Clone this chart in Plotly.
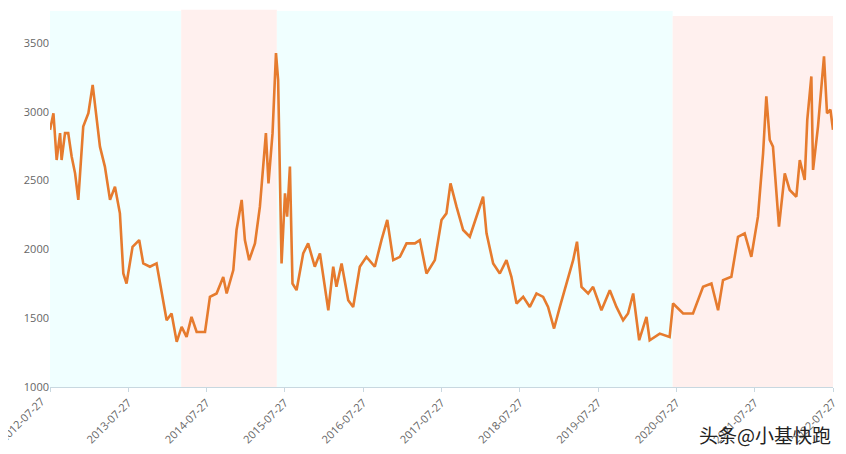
import plotly.graph_objects as go

dates = [
    "2012-07-27", "2012-08-12", "2012-08-27", "2012-09-12", "2012-09-19", "2012-10-05",
    "2012-10-20", "2012-11-05", "2012-11-21", "2012-12-06", "2012-12-29", "2013-01-22",
    "2013-02-11", "2013-03-02", "2013-03-17", "2013-04-09", "2013-05-03", "2013-05-26",
    "2013-06-18", "2013-07-04", "2013-07-19", "2013-08-16", "2013-09-16", "2013-10-05",
    "2013-11-05", "2013-12-06", "2014-01-06", "2014-01-22", "2014-02-14", "2014-03-10",
    "2014-04-02", "2014-04-25", "2014-05-18", "2014-06-11", "2014-07-20", "2014-08-12",
    "2014-09-12", "2014-10-13", "2014-10-29", "2014-11-29", "2014-12-14", "2015-01-07",
    "2015-01-22", "2015-02-11", "2015-03-10", "2015-04-02", "2015-04-30", "2015-05-12",
    "2015-05-31", "2015-06-16", "2015-06-26", "2015-07-12", "2015-07-28", "2015-08-07",
    "2015-08-20", "2015-09-01", "2015-09-20", "2015-10-21", "2015-11-13", "2015-12-14",
    "2016-01-07", "2016-02-15", "2016-03-09", "2016-03-24", "2016-04-17", "2016-05-18",
    "2016-06-10", "2016-07-11", "2016-08-11", "2016-09-19", "2016-10-20", "2016-11-16",
    "2016-12-14", "2017-01-14", "2017-02-14", "2017-03-25", "2017-04-17", "2017-05-18",
    "2017-06-26", "2017-07-27", "2017-08-19", "2017-09-07", "2017-10-05", "2017-11-05",
    "2017-12-06", "2018-01-06", "2018-02-06", "2018-02-22", "2018-03-25", "2018-04-25",
    "2018-05-26", "2018-06-18", "2018-07-12", "2018-08-12", "2018-09-12", "2018-10-13",
    "2018-11-13", "2018-12-06", "2019-01-03", "2019-01-30", "2019-03-09", "2019-04-02",
    "2019-04-20", "2019-05-11", "2019-06-11", "2019-07-04", "2019-08-12", "2019-09-20",
    "2019-10-21", "2019-11-21", "2019-12-14", "2020-01-07", "2020-02-04", "2020-03-09",
    "2020-03-24", "2020-05-10", "2020-06-25", "2020-07-11", "2020-08-27", "2020-10-12",
    "2020-11-28", "2021-01-06", "2021-02-06", "2021-03-01", "2021-04-09", "2021-05-10",
    "2021-06-10", "2021-07-11", "2021-08-11", "2021-09-04", "2021-09-19", "2021-10-05",
    "2021-10-20", "2021-11-17", "2021-12-14", "2022-01-06", "2022-02-06", "2022-02-22",
    "2022-03-17", "2022-03-29", "2022-04-17", "2022-04-25", "2022-05-18", "2022-06-03",
    "2022-06-15", "2022-06-29", "2022-07-15", "2022-07-27",
]
values = [
    2869, 2990, 2650, 2845, 2650, 2845,
    2845, 2675, 2553, 2360, 2893, 2990,
    3196, 2917, 2747, 2602, 2360, 2456,
    2262, 1825, 1752, 2019, 2068, 1898,
    1874, 1898, 1631, 1485, 1534, 1328,
    1437, 1364, 1510, 1400, 1400, 1655,
    1680, 1800, 1680, 1850, 2141, 2360,
    2068, 1922, 2044, 2311, 2845, 2480,
    2845, 3427, 3233, 1898, 2408, 2238,
    2602, 1752, 1704, 1971, 2044, 1874,
    1971, 1558, 1874, 1728, 1898, 1631,
    1582, 1874, 1946, 1874, 2068, 2214,
    1922, 1946, 2044, 2044, 2068, 1825,
    1922, 2214, 2262, 2480, 2311, 2141,
    2092, 2238, 2383, 2117, 1898, 1825,
    1922, 1801, 1607, 1655, 1582, 1680,
    1655, 1582, 1425, 1582, 1801, 1922,
    2056, 1728, 1680, 1728, 1558, 1704,
    1582, 1485, 1534, 1680, 1340, 1510,
    1340, 1388, 1364, 1607, 1534, 1534,
    1728, 1752, 1558, 1777, 1801, 2092,
    2117, 1946, 2238, 2699, 3112, 2796,
    2747, 2165, 2553, 2432, 2383, 2650,
    2505, 2942, 3257, 2578, 2893, 3184,
    3403, 2990, 3015, 2869,
]

# background regimes: start, end, colour
band_starts = ["2012-07-27", "2014-03-31", "2015-06-20", "2020-07-09"]
band_ends = ["2014-03-31", "2015-06-20", "2020-07-09", "2022-07-27"]
band_colors = ["#F0FFFF", "#FFF0EE", "#F0FFFF", "#FFF0EE"]
band_tops = [1.0, 1.003, 1.0, 0.987]

tick_vals = ["2012-07-27", "2013-07-27", "2014-07-27", "2015-07-27", "2016-07-27", "2017-07-27",
             "2018-07-27", "2019-07-27", "2020-07-27", "2021-07-27", "2022-07-27"]

fig = go.Figure()

for s, e, c, top in zip(band_starts, band_ends, band_colors, band_tops):
    fig.add_shape(type="rect", xref="x", yref="paper", x0=s, x1=e, y0=0, y1=top,
                  fillcolor=c, line_width=0, layer="below")

fig.add_trace(go.Scatter(
    x=dates, y=values, mode="lines",
    line=dict(color="#E67B2E", width=2.6),
    showlegend=False,
))

# plotly drops the first tick label at the left edge, so draw it by hand
fig.add_annotation(
    text=tick_vals[0], xref="x", yref="paper", x=tick_vals[0], y=0,
    xanchor="right", yanchor="top", yshift=-4, textangle=-45, showarrow=False,
    font=dict(family="Open Sans", size=11, color="#666666"),
)

fig.add_annotation(
    text="头条@小基快跑", xref="paper", yref="paper", x=1.0, y=-0.085,
    xanchor="right", yanchor="top", showarrow=False,
    font=dict(family="Noto Sans CJK SC", size=19, color="#222222"),
)

# page body adds an 8px offset; margins are shifted to compensate
fig.update_layout(
    width=846, height=454,
    margin=dict(l=42, r=21, t=3, b=75),
    plot_bgcolor="white", paper_bgcolor="white",
    font=dict(family="Open Sans", size=11, color="#666666"),
)
fig.update_xaxes(
    range=["2012-07-27", "2022-07-27"], tickvals=tick_vals, ticktext=[""] + tick_vals[1:],
    tickangle=-45, showgrid=False, showline=True, linecolor="#C8D8E0",
    ticks="outside", tickcolor="#C8D8E0", ticklen=4, zeroline=False,
    automargin=False,
)
fig.update_yaxes(
    range=[1000, 3733], tickvals=[1000, 1500, 2000, 2500, 3000, 3500],
    showgrid=False, showline=False, zeroline=False, automargin=False,
)

fig.write_html("out.html")
